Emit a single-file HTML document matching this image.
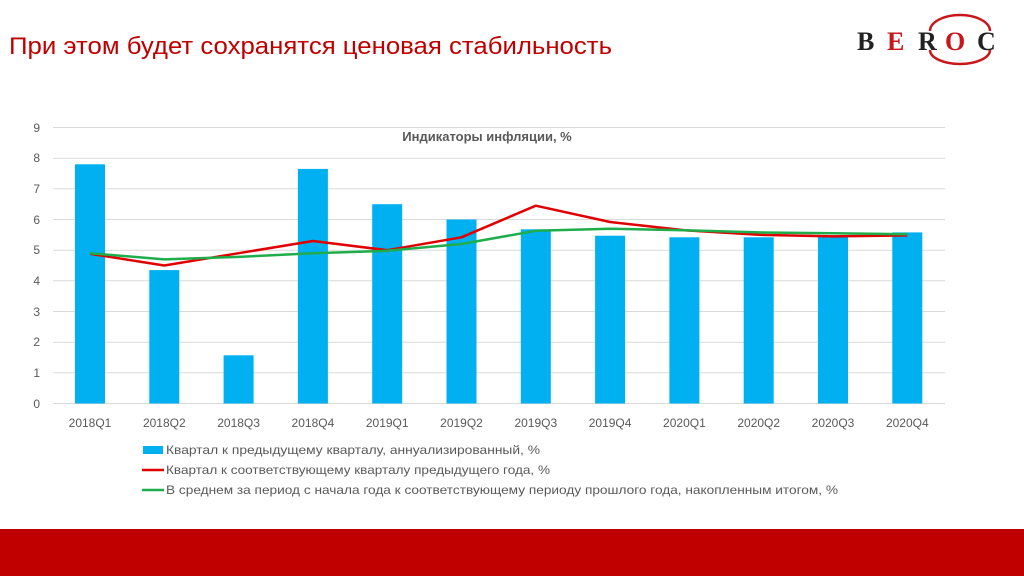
<!DOCTYPE html>
<html><head><meta charset="utf-8"><style>
html,body{margin:0;padding:0;background:#fff;width:1024px;height:576px;overflow:hidden}
svg{display:block}
</style></head><body>
<svg width="1024" height="576" xmlns="http://www.w3.org/2000/svg" font-family="'Liberation Sans', sans-serif">
<text x="9" y="54" font-size="24" fill="#c00000" textLength="603" lengthAdjust="spacingAndGlyphs">При этом будет сохранятся ценовая стабильность</text>
<!-- logo -->
<g font-family="'Liberation Serif', serif" font-weight="bold" font-size="26">
<text x="857" y="50" fill="#222">B</text>
<text x="887" y="50" fill="#c8161d">E</text>
<text x="918" y="50" fill="#222">R</text>
<text x="945" y="50" fill="#c8161d">O</text>
<text x="977" y="50" fill="#222">C</text>
</g>
<path d="M930 31 A30 16 0 0 1 990 31" fill="none" stroke="#c8161d" stroke-width="2.5"/>
<path d="M930 50 A30 14 0 0 0 990 50" fill="none" stroke="#c8161d" stroke-width="2.5"/>
<!-- grid -->
<g stroke="#d9d9d9" stroke-width="1">
<line x1="53" x2="945" y1="127.5" y2="127.5"/><line x1="53" x2="945" y1="158.2" y2="158.2"/>
<line x1="53" x2="945" y1="188.8" y2="188.8"/><line x1="53" x2="945" y1="219.5" y2="219.5"/>
<line x1="53" x2="945" y1="250.2" y2="250.2"/><line x1="53" x2="945" y1="280.8" y2="280.8"/>
<line x1="53" x2="945" y1="311.5" y2="311.5"/><line x1="53" x2="945" y1="342.2" y2="342.2"/>
<line x1="53" x2="945" y1="372.8" y2="372.8"/><line x1="53" x2="945" y1="403.5" y2="403.5"/>
</g>
<g font-size="12" fill="#595959" text-anchor="end">
<text x="40" y="132">9</text><text x="40" y="162">8</text><text x="40" y="193">7</text>
<text x="40" y="224">6</text><text x="40" y="254">5</text><text x="40" y="285">4</text>
<text x="40" y="316">3</text><text x="40" y="346">2</text><text x="40" y="377">1</text>
<text x="40" y="408">0</text>
</g>
<text x="487" y="141" font-size="13" font-weight="bold" fill="#595959" text-anchor="middle">Индикаторы инфляции, %</text>
<g fill="#00b0f0">
<rect x="75" y="164.3" width="30" height="239.2"/>
<rect x="149.3" y="270.1" width="30" height="133.4"/>
<rect x="223.6" y="355.3" width="30" height="48.2"/>
<rect x="297.9" y="168.9" width="30" height="234.6"/>
<rect x="372.2" y="204.2" width="30" height="199.3"/>
<rect x="446.5" y="219.5" width="30" height="184"/>
<rect x="520.8" y="229.3" width="30" height="174.2"/>
<rect x="595.1" y="235.7" width="30" height="167.8"/>
<rect x="669.4" y="237.3" width="30" height="166.2"/>
<rect x="743.7" y="237.3" width="30" height="166.2"/>
<rect x="818" y="236.4" width="30" height="167.1"/>
<rect x="892.3" y="232.4" width="30" height="171.1"/>
</g>
<polyline fill="none" stroke="#e00000" stroke-width="2.5" stroke-linejoin="round" points="90,253.8 164.3,265.5 238.6,253.2 312.9,241 387.2,250.2 461.5,237.3 535.8,205.7 610.1,222 684.4,230.2 758.7,234.8 833,236.4 907.3,235.4"/>
<polyline fill="none" stroke="#1fad4b" stroke-width="2.5" stroke-linejoin="round" points="90,253.2 164.3,259.4 238.6,256.9 312.9,253.2 387.2,250.8 461.5,244 535.8,230.8 610.1,228.7 684.4,230.2 758.7,232.4 833,233.3 907.3,234.2"/>
<g font-size="12" fill="#595959" text-anchor="middle">
<text x="90" y="427">2018Q1</text><text x="164.3" y="427">2018Q2</text><text x="238.6" y="427">2018Q3</text>
<text x="312.9" y="427">2018Q4</text><text x="387.2" y="427">2019Q1</text><text x="461.5" y="427">2019Q2</text>
<text x="535.8" y="427">2019Q3</text><text x="610.1" y="427">2019Q4</text><text x="684.4" y="427">2020Q1</text>
<text x="758.7" y="427">2020Q2</text><text x="833" y="427">2020Q3</text><text x="907.3" y="427">2020Q4</text>
</g>
<rect x="143" y="446" width="20" height="8" fill="#00b0f0"/>
<line x1="142" x2="164" y1="470" y2="470" stroke="#e00000" stroke-width="2.5"/>
<line x1="142" x2="164" y1="490" y2="490" stroke="#1fad4b" stroke-width="2.5"/>
<g font-size="12" fill="#595959">
<text x="166" y="454" textLength="374" lengthAdjust="spacingAndGlyphs">Квартал к предыдущему кварталу, аннуализированный, %</text>
<text x="166" y="474" textLength="384" lengthAdjust="spacingAndGlyphs">Квартал к соответствующему кварталу предыдущего года, %</text>
<text x="166" y="494" textLength="672" lengthAdjust="spacingAndGlyphs">В среднем за период с начала года к соответствующему периоду прошлого года, накопленным итогом, %</text>
</g>
<rect x="0" y="529" width="1024" height="47" fill="#c00000"/>
</svg>
</body></html>
